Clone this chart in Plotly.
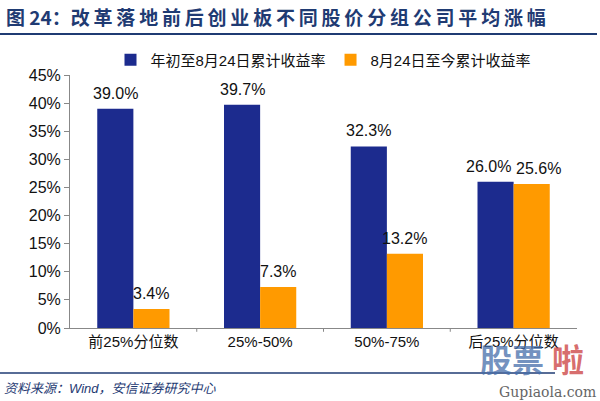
import plotly.graph_objects as go

categories = ["前25%分位数", "25%-50%", "50%-75%", "后25%分位数"]
series_names = ["年初至8月24日累计收益率", "8月24日至今累计收益率"]
ytd_values = [39.0, 39.7, 32.3, 26.0]
since_values = [3.4, 7.3, 13.2, 25.6]
y_ticks = [0, 5, 10, 15, 20, 25, 30, 35, 40, 45]

colors = ["#1C2B8E", "#FF9A00"]
font_family = "Arial, Liberation Sans, Noto Sans CJK SC, sans-serif"
navy = "#1F3B73"

px_w, px_h = 507, 253
def fx(px):
    return (px - 70) / px_w
def fy(py):
    return (328 - py) / px_h

bargap = 0.43
band_px = px_w / len(categories)
half_bar_px = band_px * (1 - bargap) / 4

fig = go.Figure()
for name, vals, c in zip(series_names, [ytd_values, since_values], colors):
    fig.add_trace(go.Bar(
        x=categories, y=vals, name=name, marker_color=c, marker_line_width=0,
    ))

# value labels above bars; nudge apart where two labels would collide
for s, vals in enumerate([ytd_values, since_values]):
    sign = -1 if s == 0 else 1
    for i, v in enumerate(vals):
        other = since_values[i] if s == 0 else ytd_values[i]
        extra = 7 if abs(v - other) < 3 else 0
        fig.add_annotation(x=categories[i], y=v, text=f"{v:.1f}%", showarrow=False,
                           xref="x", yref="y", yanchor="bottom",
                           xshift=sign * (half_bar_px + extra), yshift=5,
                           font=dict(size=16, color="#111111", family=font_family))

fig.update_layout(
    width=600, height=401,
    margin=dict(l=70, r=23, t=75, b=73),
    paper_bgcolor="white", plot_bgcolor="white",
    barmode="group", bargap=bargap, bargroupgap=0,
    font=dict(family=font_family, color="#111111"),
    showlegend=True,
    legend=dict(orientation="h", x=0.5, xanchor="center",
                y=fy(60), yref="paper", yanchor="middle",
                font=dict(size=15, color="#111111"), itemwidth=30,
                traceorder="normal", tracegroupgap=0),
)

fig.update_yaxes(range=[0, 45], tickvals=y_ticks, ticktext=[f"{t}%" for t in y_ticks],
                 showgrid=False, showline=True, linecolor="#888888", linewidth=1,
                 ticks="outside", ticklen=5, tickcolor="#888888",
                 tickfont=dict(size=16, color="#111111"), zeroline=False)
fig.update_xaxes(showgrid=False, showline=True, linecolor="#888888", linewidth=1,
                 ticks="", tickfont=dict(size=15, color="#111111"))

# category divider ticks on x axis
for i in range(1, len(categories)):
    fig.add_shape(type="line", xref="x", yref="paper", x0=i - 0.5, x1=i - 0.5,
                  y0=0, y1=-0.015, line=dict(color="#888888", width=1))

# title and rules
title_text = "图 24：" + "\u2009".join("改革落地前后创业板不同股价分组公司平均涨幅")
fig.add_annotation(text="<b>" + title_text + "</b>",
                   xref="paper", yref="paper", x=fx(4), y=fy(16),
                   xanchor="left", yanchor="middle", showarrow=False,
                   font=dict(size=19, color=navy, family="Noto Sans CJK SC, sans-serif"))
fig.add_shape(type="line", xref="paper", yref="paper", x0=fx(0), x1=fx(597),
              y0=fy(34), y1=fy(34), line=dict(color=navy, width=2))
fig.add_shape(type="line", xref="paper", yref="paper", x0=fx(0), x1=fx(555),
              y0=fy(373), y1=fy(373), line=dict(color=navy, width=1.5))
fig.add_annotation(text="<i>资料来源：Wind，安信证券研究中心</i>",
                   xref="paper", yref="paper", x=fx(2), y=fy(388),
                   xanchor="left", yanchor="middle", showarrow=False,
                   font=dict(size=13, color=navy))

# watermark
fig.add_annotation(text="<b>股票</b>", xref="paper", yref="paper", x=fx(478), y=fy(358),
                   xanchor="left", yanchor="middle", showarrow=False,
                   font=dict(size=32, color="rgba(70,110,170,0.75)",
                             family="Noto Sans CJK SC, sans-serif"))
fig.add_annotation(text="<b>啦</b>", xref="paper", yref="paper", x=fx(550), y=fy(358),
                   xanchor="left", yanchor="middle", showarrow=False,
                   font=dict(size=32, color="rgba(205,70,70,0.8)",
                             family="Noto Sans CJK SC, sans-serif"))
fig.add_annotation(text="Gupiaola.com", xref="paper", yref="paper", x=fx(598), y=fy(392),
                   xanchor="right", yanchor="middle", showarrow=False,
                   font=dict(size=14, color="#666666", family="DejaVu Serif, serif"))

fig.write_html("out.html")
